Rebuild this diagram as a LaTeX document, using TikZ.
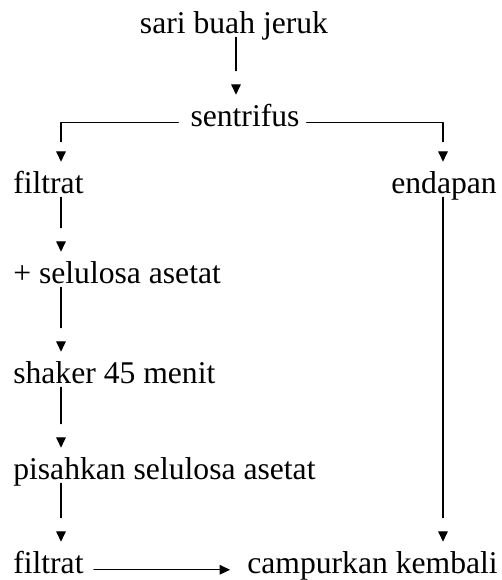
\documentclass[tikz,border=0pt]{standalone}
\usepackage{fontspec}
\setmainfont{Liberation Serif}
\usepackage{tikz}
\usetikzlibrary{arrows.meta,decorations.markings}
\tikzset{lbl/.style={inner sep=0pt,text height=0.775cm,text depth=0.1cm,font=\fontsize{22.5}{27}\selectfont}}
\tikzset{tip/.style={-{Triangle[length=0.26cm,width=0.24cm]}}}
\tikzset{flow/.style={line width=0.8pt,shorten >=#1,postaction={decorate,decoration={markings,mark=at position 1 with {\arrow[line width=0.8pt]{Triangle[length=0.26cm,width=0.24cm]}}}}},flow/.default=0.6cm}

\begin{document}
\begin{tikzpicture}[line cap=round,line join=round,x=0.025cm,y=-0.025cm]
            \useasboundingbox (0,0) rectangle (501,580);
            \coordinate (tc) at (236,0);
            \coordinate (lc) at (61,0);
            \coordinate (rc) at (443,0);
            \node[lbl,anchor=base] (sari) at (234,33) {sari buah jeruk};
            \node[lbl,anchor=base] (sentrifus) at (245,126) {sentrifus};
            \node[lbl,anchor=base west] (filtrat) at (13,193) {filtrat};
            \node[lbl,anchor=base east] (endapan) at (497,193) {endapan};
            \node[lbl,anchor=base west] (selulosa) at (13,283) {+ selulosa asetat};
            \node[lbl,anchor=base west] (shaker) at (13,383) {shaker 45 menit};
            \node[lbl,anchor=base west] (pisahkan) at (13,479) {pisahkan selulosa asetat};
            \node[lbl,anchor=base west] (filtratb) at (13,573) {filtrat};
            \node[lbl,anchor=base east] (campur) at (498,573) {campurkan kembali};
            % sentrifus
            \draw[flow] (sari.south -| tc) -- (tc |- sentrifus.north);
            \draw[flow=0.5cm,shorten <=0.3cm] (sentrifus.mid west) -| (lc |- filtrat.north);
            \draw[flow=0.5cm,shorten <=0.175cm] (sentrifus.mid east) -| (rc |- endapan.north);
            % filtrat
            \draw[flow] (filtrat.south -| lc) -- (lc |- selulosa.north);
            \draw[flow] (selulosa.south -| lc) -- (lc |- shaker.north);
            \draw[flow] (shaker.south -| lc) -- (lc |- pisahkan.north);
            \draw[flow] (pisahkan.south -| lc) -- (lc |- filtratb.north);
            % endapan
            \draw[flow] (endapan.south -| rc) -- (rc |- campur.north);
            \draw[tip,line width=0.8pt,shorten <=0.25cm,shorten >=0.425cm] (filtratb.mid east) -- (campur.mid west);
\end{tikzpicture}
\end{document}
